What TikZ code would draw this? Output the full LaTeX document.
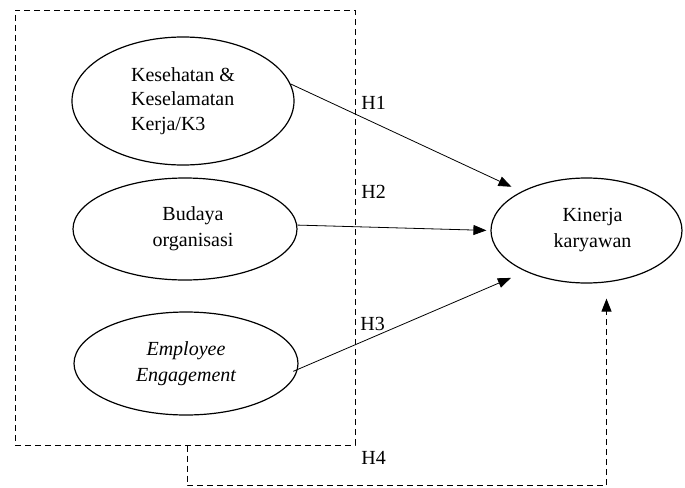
\documentclass[tikz,border=0pt]{standalone}
\usepackage{fontspec}
\setmainfont{Liberation Serif}
\usetikzlibrary{shapes.geometric, arrows.meta, positioning, calc}

\begin{document}
\begin{tikzpicture}[x=0.5pt, y=-0.5pt,
  every node/.style={font=\fontsize{10}{13}\selectfont},
  varbox/.style={draw, ellipse, line width=0.6pt, inner sep=0pt, align=center},
  hyp/.style={-{Triangle[length=6.5pt, width=5pt]}, line width=0.4pt},
  grpbox/.style={draw, dashed, dash pattern=on 3pt off 2pt, line width=0.5pt, inner sep=0pt},
  hlabel/.style={anchor=west, inner sep=0pt}]
\useasboundingbox (0,0) rectangle (685,487);
% Variables
\node[grpbox, minimum width=170pt, minimum height=217.5pt] (grp) at (185,227.5) {};

\node[varbox, minimum width=111pt, minimum height=64pt, align=left,
  font=\fontsize{10}{12.3}\selectfont] (k3) at (183,101)
  {Kesehatan \&\\Keselamatan\\Kerja/K3};
\node[varbox, minimum width=112pt, minimum height=51pt] (budaya) at (185,229)
  {\hspace*{8pt}Budaya\\\hspace*{8pt}organisasi};
\node[varbox, minimum width=112pt, minimum height=51.5pt] (engage) at (186,363.5)
  {\itshape Employee\\\itshape Engagement};
\node[varbox, minimum width=95.5pt, minimum height=52.5pt] (kinerja) at (586.5,230.5)
  {\hspace*{6pt}Kinerja\\\hspace*{6pt}karyawan};

% Hypotheses
\draw[hyp, shorten >=5.5pt] (k3.9) -- (kinerja.149);
\draw[hyp, shorten >=2pt] (budaya.2) -- (kinerja.180);
\draw[hyp, shorten <=-2.5pt, shorten >=8pt] (engage.-3) -- (kinerja.214);
\draw[hyp, dashed, dash pattern=on 3pt off 2pt, line width=0.5pt]
  ([xshift=1pt]grp.south) -- ++(0,40) -| ([xshift=10pt, yshift=-7.5pt]kinerja.south);

\node[hlabel] (h1) at (361,103) {H1};
\node[hlabel] (h2) at (361,192) {H2};
\node[hlabel] (h3) at (360,324) {H3};
\node[hlabel] (h4) at (361,458) {H4};
\end{tikzpicture}
\end{document}
